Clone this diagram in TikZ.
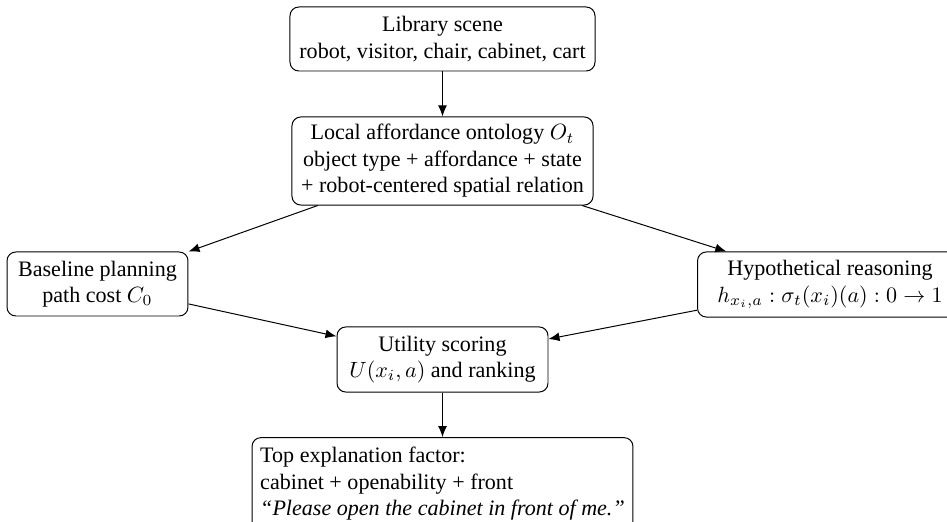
\documentclass[tikz,border=0pt]{standalone}
\usepackage[no-math]{fontspec}
\setmainfont{Liberation Serif}
\usetikzlibrary{arrows.meta}
\tikzset{
  box/.style={draw, rounded corners=4pt, line width=0.45pt, align=center, inner sep=3.33pt},
  flow/.style={-{Latex[length=5pt,width=4pt]}, line width=0.45pt}
}
\begin{document}
\begin{tikzpicture}[x=0.4531pt,y=-0.4531pt]
\useasboundingbox (0,0) rectangle (947,522);
\node[box, minimum width=138.2pt, minimum height=29pt] (scene) at (442.5,39) {Library scene\\robot, visitor, chair, cabinet, cart};
\node[box, minimum width=136.4pt, minimum height=39.9pt] (onto) at (442.5,161) {Local affordance ontology $O_t$\\object type + affordance + state\\+ robot-centered spatial relation};
\node[box, minimum width=82pt, minimum height=29pt] (base) at (97.5,284) {Baseline planning\\path cost $C_0$};
\node[box, minimum width=120pt, minimum height=29.5pt] (hyp) at (830,284.5) {Hypothetical reasoning\\$h_{x_i,a}:\sigma_t(x_i)(a):0\to1$};
\node[box, minimum width=95.6pt, minimum height=29.5pt] (util) at (442.5,359.5) {Utility scoring\\$U(x_i,a)$ and ranking};
\node[box, align=left, minimum width=172.6pt, minimum height=42pt] (top) at (442.5,484) {Top explanation factor:\\cabinet + openability + front\\\textit{``Please open the cabinet in front of me.''}};
\draw[flow] (scene) -- (onto);
\draw[flow] (onto) -- (base);
\draw[flow] (onto) -- (hyp);
\draw[flow] (base) -- (util);
\draw[flow] (hyp) -- (util);
\draw[flow] (util) -- (top);
\end{tikzpicture}
\end{document}
